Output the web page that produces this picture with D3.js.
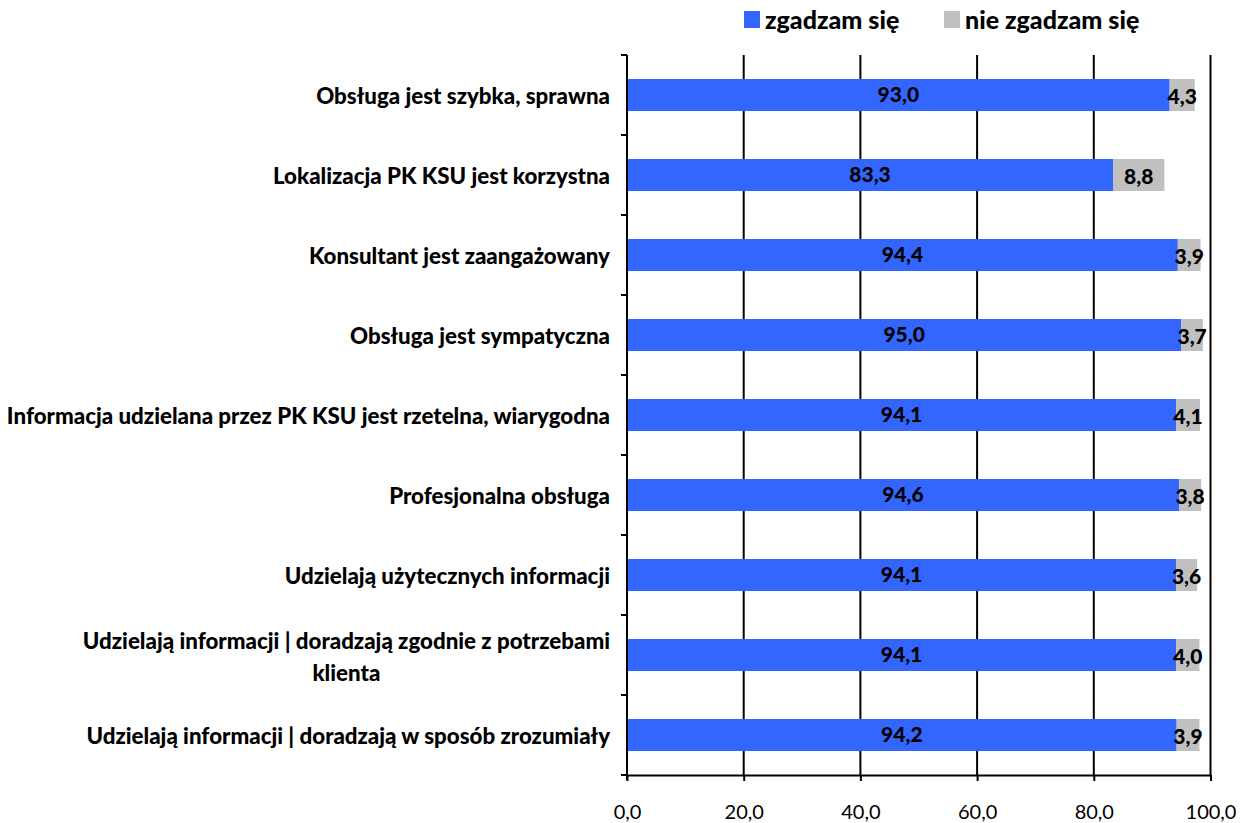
<!DOCTYPE html>
<html>
<head>
<meta charset="utf-8">
<script src="https://cdn.jsdelivr.net/npm/d3@7"></script>
<style>
  html, body { margin: 0; padding: 0; background: #fff; }
  svg { display: block; font-family: Lato, "Open Sans", sans-serif; }
</style>
</head>
<body>
<svg id="chart" width="1245" height="823"></svg>
<script>
// Survey statements, top to bottom ("\n" marks where a long label wraps)
const categories = [
  "Obsługa jest szybka, sprawna",
  "Lokalizacja PK KSU jest korzystna",
  "Konsultant jest zaangażowany",
  "Obsługa jest sympatyczna",
  "Informacja udzielana przez PK KSU jest rzetelna, wiarygodna",
  "Profesjonalna obsługa",
  "Udzielają użytecznych informacji",
  "Udzielają informacji | doradzają zgodnie z potrzebami\nklienta",
  "Udzielają informacji | doradzają w sposób zrozumiały"
];
const agree    = [93.0, 83.3, 94.4, 95.0, 94.1, 94.6, 94.1, 94.1, 94.2];
const disagree = [4.3, 8.8, 3.9, 3.7, 4.1, 3.8, 3.6, 4.0, 3.9];
const seriesNames = ["zgadzam się", "nie zgadzam się"];
const seriesColors = ["#3366FF", "#C0C0C0"];
const xTicks = [0, 20, 40, 60, 80, 100];

const svg = d3.select("#chart");
const plotL = 627, plotR = 1210.5, plotT = 55, plotB = 775;

const x = d3.scaleLinear().domain([0, 100]).range([plotL, plotR]);
const y = d3.scaleBand().domain(d3.range(categories.length)).range([plotT, plotB]).paddingInner(0.6).paddingOuter(0.3);
const band = d3.scaleBand().domain(d3.range(categories.length)).range([plotT, plotB]);

const fmt = v => v.toFixed(1).replace(".", ",");

// vertical gridlines
svg.append("g").selectAll("line").data(xTicks.filter(d => d > 0)).join("line")
  .attr("x1", d => x(d)).attr("x2", d => x(d))
  .attr("y1", plotT).attr("y2", plotB)
  .attr("stroke", "#000").attr("stroke-width", 2);

// stacked bars
const rows = categories.map((c, i) => ({ i, a: agree[i], d: disagree[i] }));
const g = svg.append("g");
g.selectAll("rect.agree").data(rows).join("rect")
  .attr("x", x(0)).attr("y", r => y(r.i))
  .attr("width", r => x(r.a) - x(0)).attr("height", y.bandwidth())
  .attr("fill", seriesColors[0]);
g.selectAll("rect.dis").data(rows).join("rect")
  .attr("x", r => x(r.a)).attr("y", r => y(r.i))
  .attr("width", r => x(r.a + r.d) - x(r.a)).attr("height", y.bandwidth())
  .attr("fill", seriesColors[1]);

// value labels
g.selectAll("text.va").data(rows).join("text")
  .attr("x", r => (x(0) + x(r.a)) / 2)
  .attr("y", r => y(r.i) + y.bandwidth() / 2 - 2)
  .attr("text-anchor", "middle").attr("dominant-baseline", "central")
  .attr("font-size", 21).attr("font-weight", "900").attr("fill", "#000")
  .text(r => fmt(r.a));
g.selectAll("text.vd").data(rows).join("text")
  .attr("x", r => (x(r.a) + x(r.a + r.d)) / 2)
  .attr("y", r => y(r.i) + y.bandwidth() / 2)
  .attr("text-anchor", "middle").attr("dominant-baseline", "central")
  .attr("font-size", 21).attr("font-weight", "900").attr("fill", "#000")
  .text(r => fmt(r.d));

// y axis line with ticks at category boundaries
svg.append("line").attr("x1", plotL).attr("x2", plotL).attr("y1", plotT).attr("y2", plotB + 5)
  .attr("stroke", "#000").attr("stroke-width", 2);
svg.append("g").selectAll("line").data(d3.range(categories.length + 1)).join("line")
  .attr("x1", plotL - 6).attr("x2", plotL)
  .attr("y1", i => plotT + i * band.bandwidth()).attr("y2", i => plotT + i * band.bandwidth())
  .attr("stroke", "#000").attr("stroke-width", 2);

// x axis
const xAxis = svg.append("g").attr("transform", `translate(0,${plotB})`)
  .call(d3.axisBottom(x).tickValues(xTicks).tickSize(6).tickSizeOuter(0).tickFormat(fmt));
xAxis.select(".domain").attr("stroke", "#000").attr("stroke-width", 2);
xAxis.selectAll(".tick line").attr("stroke", "#000").attr("stroke-width", 2);
xAxis.selectAll(".tick text").attr("font-size", 20).attr("font-family", "Lato, sans-serif")
  .attr("fill", "#000").attr("y", 37).attr("dy", "0.35em");

// category labels, right-aligned; a wrapped label's second line is centred under the first
const labelX = 610;
const labelFont = 22.3;
categories.forEach((c, i) => {
  const cy = band(i) + band.bandwidth() / 2;
  const lines = c.split("\n");
  const t = svg.append("text").attr("font-size", labelFont).attr("font-weight", "900")
    .attr("fill", "#000").attr("dominant-baseline", "central")
    .attr("text-anchor", "end").attr("x", labelX);
  if (lines.length > 1) {
    t.attr("y", cy - 15).text(lines[0]);
    const w = t.node().getComputedTextLength();
    svg.append("text").attr("font-size", labelFont).attr("font-weight", "900")
      .attr("fill", "#000").attr("dominant-baseline", "central")
      .attr("text-anchor", "middle").attr("x", labelX - w / 2).attr("y", cy + 17).text(lines[1]);
  } else {
    t.attr("y", cy).text(c);
  }
});

// legend
const legendX = [744, 944];
const lg = svg.append("g");
seriesNames.forEach((n, i) => {
  lg.append("rect").attr("x", legendX[i]).attr("y", 11).attr("width", 16).attr("height", 17)
    .attr("fill", seriesColors[i]);
  lg.append("text").attr("x", legendX[i] + 21).attr("y", 19).attr("dominant-baseline", "central")
    .attr("font-size", 25).attr("font-weight", "900").attr("fill", "#000").text(n);
});
</script>
</body>
</html>
